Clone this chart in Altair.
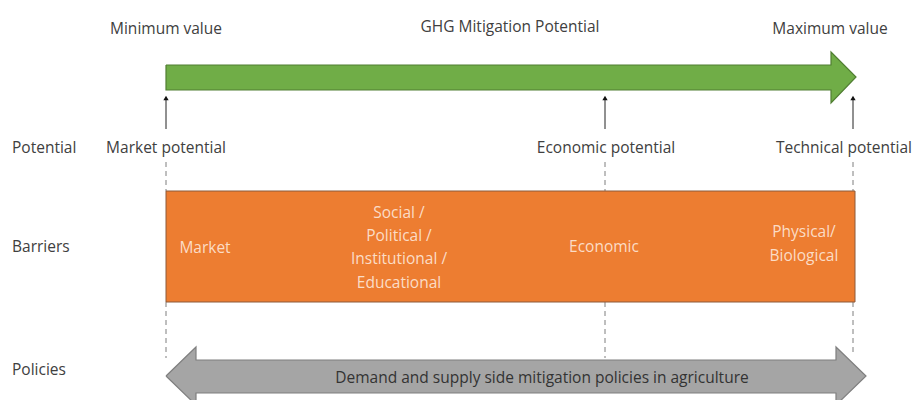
import altair as alt
import pandas as pd

FONT = "Open Sans"
DARK = "#404040"
FS = 15.5

# ---- diagram content (positions in page pixels) ----
marker_names = ["Market potential", "Economic potential", "Technical potential"]
marker_x = [166, 605, 853]
marker_label_x = [166, 606, 912]
marker_label_align = ["center", "center", "right"]

top_labels = ["Minimum value", "GHG Mitigation Potential", "Maximum value"]
top_label_x = [166, 510, 830]

row_labels = ["Potential", "Barriers", "Policies"]
row_label_y = [148, 247, 370]

barrier_lines = ["Market", "Social /", "Political /", "Institutional /", "Educational",
                 "Economic", "Physical/", "Biological"]
barrier_x = [205, 399, 399, 399, 399, 604, 804, 804]
barrier_y = [248, 213, 236, 259, 283, 247, 232, 256]

policy_text = ["Demand and supply side mitigation policies in agriculture"]
policy_x = [542]

# arrow polygons (vertex lists)
green_x = [166, 831, 831, 856, 831, 831, 166, 166]
green_y = [65, 65, 52, 77, 103, 90, 90, 65]
gray_x = [166, 196, 196, 836, 836, 866, 836, 836, 196, 196, 166]
gray_y = [376, 347, 360, 360, 347, 376, 405, 393, 393, 405, 376]

box = dict(x=166, x2=855, y=191, y2=302)

xs = alt.Scale(domain=[8, 913])
ys = alt.Scale(domain=[8, 400], reverse=True)
X = lambda f="x": alt.X(f"{f}:Q", scale=xs, axis=None)
Y = lambda f="y": alt.Y(f"{f}:Q", scale=ys, axis=None)

layers = []

# green arrow fill: body + head
gbody = pd.DataFrame({"x": [166], "x2": [832], "y": [65], "y2": [90]})
layers.append(alt.Chart(gbody).mark_rect(color="#70AD47").encode(
    x=X(), x2="x2:Q", y=Y(), y2="y2:Q"))
ghead = pd.DataFrame({"x": [831, 856], "y": [52, 77], "y2": [103, 77]})
layers.append(alt.Chart(ghead).mark_area(color="#70AD47", opacity=1).encode(
    x=X(), y=Y(), y2="y2:Q"))
gpoly = pd.DataFrame({"x": green_x, "y": green_y, "o": range(len(green_x))})
layers.append(alt.Chart(gpoly).mark_line(color="#507E32", strokeWidth=1.2).encode(
    x=X(), y=Y(), order="o:Q"))

# gray double arrow
grbody = pd.DataFrame({"x": [195], "x2": [837], "y": [360], "y2": [393]})
layers.append(alt.Chart(grbody).mark_rect(color="#A5A5A5").encode(
    x=X(), x2="x2:Q", y=Y(), y2="y2:Q"))
grhead = pd.DataFrame({"x": [166, 196, 836, 866], "y": [376, 347, 347, 376],
                       "y2": [376, 405, 405, 376], "d": ["l", "l", "r", "r"]})
layers.append(alt.Chart(grhead).mark_area(color="#A5A5A5", opacity=1).encode(
    x=X(), y=Y(), y2="y2:Q", detail="d:N"))
grpoly = pd.DataFrame({"x": gray_x, "y": gray_y, "o": range(len(gray_x))})
layers.append(alt.Chart(grpoly).mark_line(color="#7F7F7F", strokeWidth=1.2).encode(
    x=X(), y=Y(), order="o:Q"))

# dashed guide lines
dash_rows = []
for mx in marker_x:
    dash_rows.append({"x": mx, "y": 162, "y2": 191})
    dash_rows.append({"x": mx, "y": 302, "y2": 358 if mx != 853 else 352})
dash = pd.DataFrame(dash_rows)
layers.append(alt.Chart(dash).mark_rule(color="#7F7F7F", strokeDash=[5, 4], strokeWidth=1).encode(
    x=X(), y=Y(), y2="y2:Q"))

# orange barrier box
bdf = pd.DataFrame([box])
layers.append(alt.Chart(bdf).mark_rect(color="#ED7D31", stroke="#8C5A3A", strokeWidth=1).encode(
    x=X(), x2="x2:Q", y=Y(), y2="y2:Q"))

# potential arrows
arr = pd.DataFrame({"x": marker_x, "y": [99] * 3, "y2": [129] * 3})
layers.append(alt.Chart(arr).mark_rule(color="#222222", strokeWidth=1).encode(
    x=X(), y=Y(), y2="y2:Q"))
heads = pd.DataFrame({"x": marker_x, "y": [98] * 3})
layers.append(alt.Chart(heads).mark_point(shape="triangle-up", filled=True, color="#111111",
                                         size=28, opacity=1).encode(x=X(), y=Y()))

# texts
tdf = pd.DataFrame({"x": top_label_x, "y": [29, 27, 29], "t": top_labels})
layers.append(alt.Chart(tdf).mark_text(font=FONT, fontSize=FS, color=DARK).encode(
    x=X(), y=Y(), text="t:N"))
for lx, lt, la in zip(marker_label_x, marker_names, marker_label_align):
    mdf = pd.DataFrame({"x": [lx], "y": [148], "t": [lt]})
    layers.append(alt.Chart(mdf).mark_text(font=FONT, fontSize=FS, color=DARK, align=la).encode(
        x=X(), y=Y(), text="t:N"))
rdf = pd.DataFrame({"x": [12] * 3, "y": row_label_y, "t": row_labels})
layers.append(alt.Chart(rdf).mark_text(font=FONT, fontSize=FS, color=DARK, align="left").encode(
    x=X(), y=Y(), text="t:N"))
bt = pd.DataFrame({"x": barrier_x, "y": barrier_y, "t": barrier_lines})
layers.append(alt.Chart(bt).mark_text(font=FONT, fontSize=FS, color="#FBDCC6").encode(
    x=X(), y=Y(), text="t:N"))
pt = pd.DataFrame({"x": policy_x, "y": [378], "t": policy_text})
layers.append(alt.Chart(pt).mark_text(font=FONT, fontSize=FS, color="#333333").encode(
    x=X(), y=Y(), text="t:N"))

chart = alt.layer(*layers).properties(
    width=905, height=392, padding=0,
    autosize=alt.AutoSizeParams(type="none"),
    background="white",
).configure_view(stroke=None)

chart.save("out.html", embed_options={"renderer": "svg", "actions": False})
